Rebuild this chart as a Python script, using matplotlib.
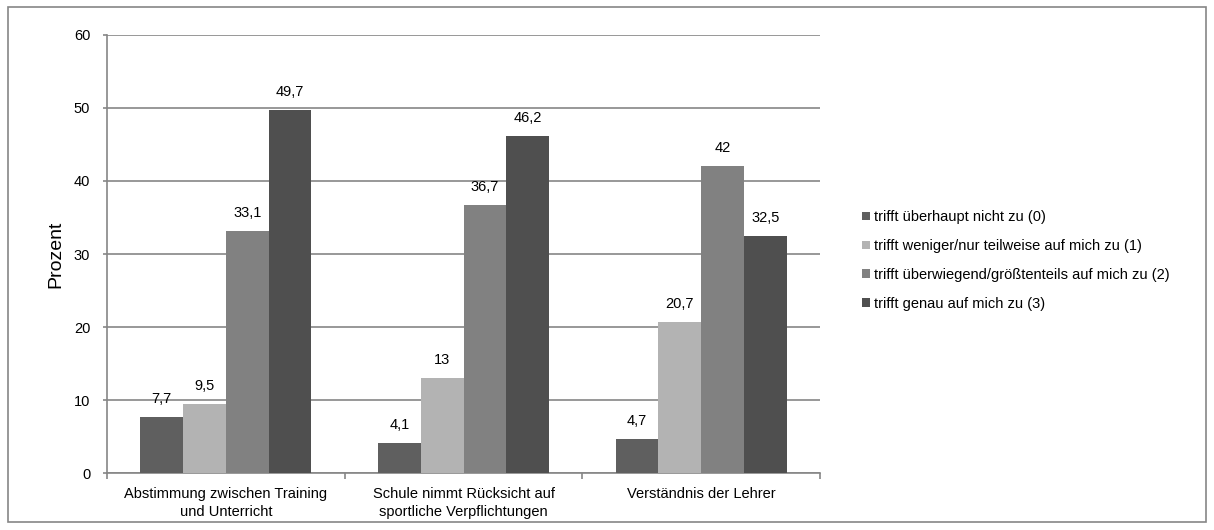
import numpy as np
import matplotlib.pyplot as plt
from matplotlib.patches import Rectangle

plt.rcParams['font.family'] = ['Liberation Sans', 'DejaVu Sans']

categories = ['Abstimmung zwischen Training\nund Unterricht',
              'Schule nimmt Rücksicht auf\nsportliche Verpflichtungen',
              'Verständnis der Lehrer']
series_names = ['trifft überhaupt nicht zu (0)',
                'trifft weniger/nur teilweise auf mich zu (1)',
                'trifft überwiegend/größtenteils auf mich zu (2)',
                'trifft genau auf mich zu (3)']
values = [
    [7.7, 4.1, 4.7],
    [9.5, 13, 20.7],
    [33.1, 36.7, 42],
    [49.7, 46.2, 32.5],
]
colors = ['#5f5f5f', '#b3b3b3', '#818181', '#4f4f4f']
grid_col = '#868686'
fs = 10.5


def fmt(v):
    s = f'{v:g}'
    return s.replace('.', ',')


fig = plt.figure(figsize=(12.14, 5.30), dpi=100)
fig.patches.append(Rectangle((8 / 1214, 8 / 530), 1198 / 1214, 515 / 530,
                             transform=fig.transFigure, fill=False,
                             edgecolor=grid_col, linewidth=1.2))
ax = fig.add_axes([0.0881, 0.1075, 0.5874, 0.8265])

x = np.arange(len(categories))
width = 0.18
for i, (name, vals) in enumerate(zip(series_names, values)):
    pos = x + (i - 1.5) * width
    ax.bar(pos, vals, width, color=colors[i], label=name, zorder=3)
    for p, v in zip(pos, vals):
        ax.annotate(fmt(v), (p, v), xytext=(0, 8), textcoords='offset points',
                    ha='center', va='bottom', fontsize=fs, zorder=4)

ax.set_xlim(-0.5, len(categories) - 0.5)
ax.set_ylim(0, 60)
ax.set_yticks(range(0, 61, 10))
ax.yaxis.grid(True, color=grid_col, linewidth=1.2, zorder=0)
ax.set_axisbelow(True)

ax.set_xticks(x)
ax.set_xticklabels(categories, fontsize=fs, linespacing=1.4)
ax.set_xticks(np.arange(-0.5, len(categories)), minor=True)
ax.tick_params(axis='x', which='major', length=0, pad=10)
ax.tick_params(axis='x', which='minor', length=4, color=grid_col, width=1.2)
ax.tick_params(axis='y', length=3, color=grid_col, width=1.2, labelsize=fs, pad=9)

for s in ['top', 'right']:
    ax.spines[s].set_visible(False)
for s in ['left', 'bottom']:
    ax.spines[s].set_color(grid_col)
    ax.spines[s].set_linewidth(1.2)

ax.set_ylabel('Prozent', fontsize=14, labelpad=7)

ax.legend(loc='center left', bbox_to_anchor=(1.04, 0.485), frameon=False,
          fontsize=fs, handlelength=0.55, handleheight=0.55, handletextpad=0.3,
          labelspacing=1.02)

fig.savefig('out.png', dpi=100)
